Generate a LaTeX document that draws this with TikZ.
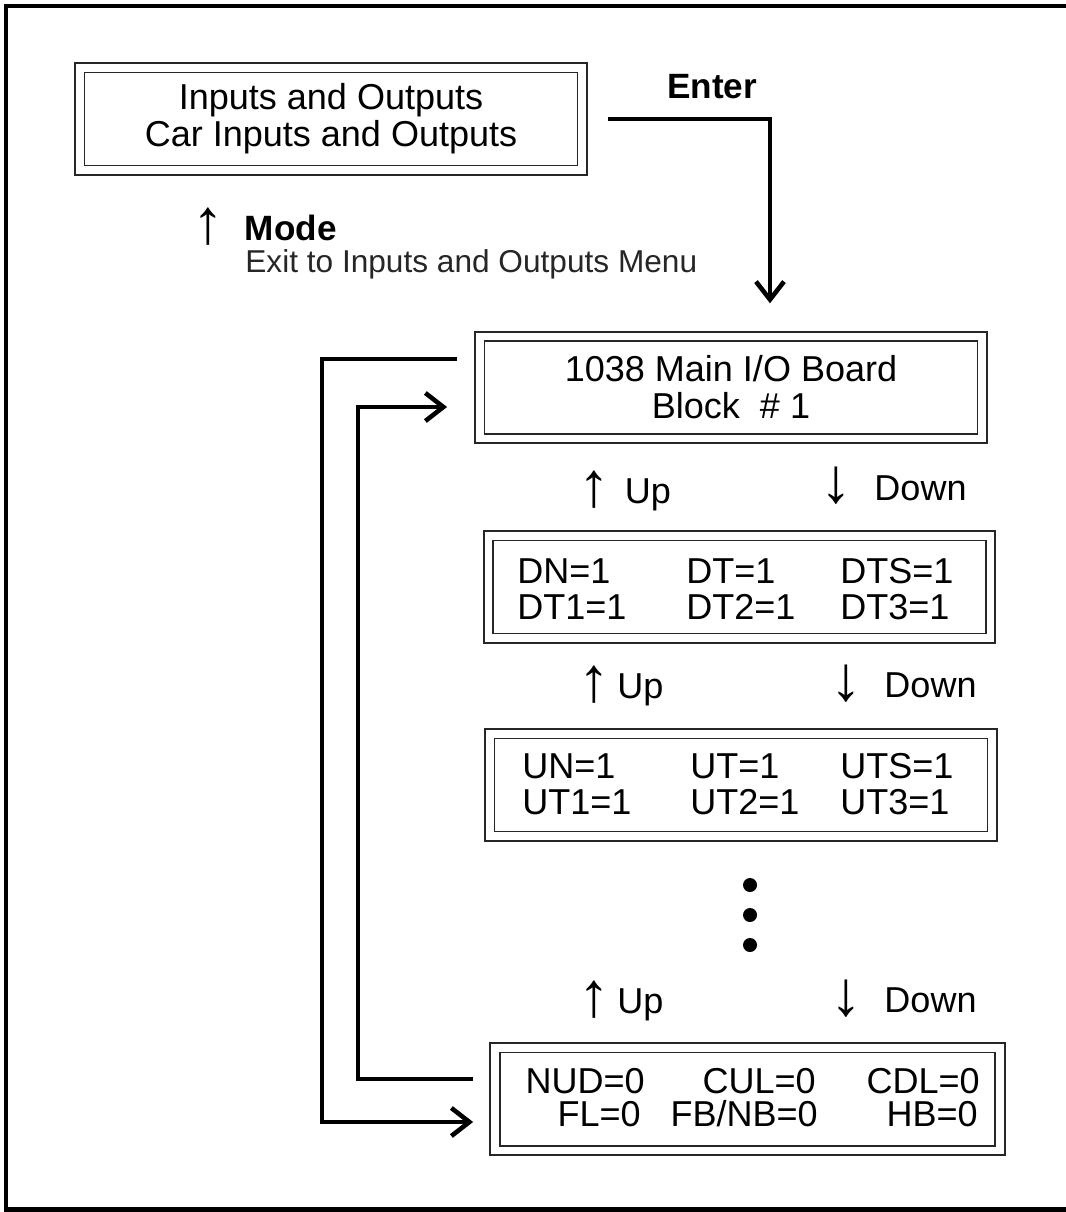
\documentclass[tikz,border=0pt]{standalone}
\usepackage{fontspec}
\setmainfont{Liberation Sans}
\usetikzlibrary{arrows.meta}

\newcommand\uarr{\raisebox{-0.06cm}{\bfseries\fontsize{36}{36}\selectfont↑}}
\newcommand\darr{\raisebox{-0.06cm}{\bfseries\fontsize{36}{36}\selectfont↓}}

\begin{document}
\begin{tikzpicture}[
  x=0.02cm,y=-0.02cm,
  lcd/.style={draw=black!85,line width=1.1pt,double=white,double distance=0.15cm,
    minimum width=10.05cm,minimum height=2.05cm,inner sep=0pt,align=center,
    font=\fontsize{20.5}{21}\selectfont},
  entry/.style={font=\fontsize{20.5}{20}\selectfont,inner sep=0pt},
  key/.style={font=\fontsize{20.5}{20}\selectfont,inner sep=0pt,anchor=base west},
  hint/.style={font=\bfseries\fontsize{20}{20}\selectfont,inner sep=0pt},
  wire/.style={draw=black,line width=2.6pt},
  tip/.style={-{Straight Barb[length=0.36cm,width=0.56cm]}},
]
\useasboundingbox (0,0) rectangle (1065,1212);
\draw[line width=0.09cm] (1075,6) -- (6,6) -- (6,1209.5) -- (1075,1209.5);

\node[lcd] (menu) at (331,119) {Inputs and Outputs\\Car Inputs and Outputs};
\node[hint,anchor=base] (enter) at (712,99) {Enter};
\node[hint,anchor=base west] (mode) at (192,241) {\uarr\hspace{0.42cm}Mode};
\node[anchor=base west,inner sep=0pt,font=\fontsize{18}{18}\selectfont,text=black!85] (exit) at (245,273) {Exit to Inputs and Outputs Menu};

\node[lcd] (board) at (731,387.5) {1038 Main I/O Board\\Block \ \# 1};
\node[key] (up1) at (578,503) {\uarr\hspace{0.3cm}Up};
\node[key] (down1) at (820,500) {\darr\hspace{0.45cm}Down};

\node[lcd] (dtbox) at (739.5,587) {};
\node[entry,anchor=base west] (dn) at (517,583) {DN=1};
\node[entry,anchor=base west] (dt) at (686,583) {DT=1};
\node[entry,anchor=base west] (dts) at (840,583) {DTS=1};
\node[entry,anchor=base west] (dta) at (517,619) {DT1=1};
\node[entry,anchor=base west] (dtb) at (686,619) {DT2=1};
\node[entry,anchor=base west] (dtc) at (840,619) {DT3=1};
\node[key] (up2) at (578,698) {\uarr\hspace{0.15cm}Up};
\node[key] (down2) at (830,697) {\darr\hspace{0.45cm}Down};

\node[lcd] (utbox) at (741,785) {};
\node[entry,anchor=base west] (un) at (522,778) {UN=1};
\node[entry,anchor=base west] (ut) at (690,778) {UT=1};
\node[entry,anchor=base west] (uts) at (840,778) {UTS=1};
\node[entry,anchor=base west] (uta) at (522,814) {UT1=1};
\node[entry,anchor=base west] (utb) at (690,814) {UT2=1};
\node[entry,anchor=base west] (utc) at (840,814) {UT3=1};

\foreach \y in {885,915,945}
  \fill (750,\y) circle (0.14cm);

\node[key] (up3) at (578,1013) {\uarr\hspace{0.15cm}Up};
\node[key] (down3) at (830,1012) {\darr\hspace{0.45cm}Down};

\node[lcd,minimum width=10.1cm] (flbox) at (747.5,1099) {};
\node[entry,anchor=base east] (nud) at (645,1093) {NUD=0};
\node[entry,anchor=base east] (cul) at (816,1093) {CUL=0};
\node[entry,anchor=base east] (cdl) at (980,1093) {CDL=0};
\node[entry,anchor=base east] (fl) at (641,1126) {FL=0};
\node[entry,anchor=base east] (fbnb) at (818,1126) {FB/NB=0};
\node[entry,anchor=base east] (hb) at (978,1126) {HB=0};

\draw[wire,tip] ([xshift=0.5cm]menu.east) -| ([xshift=0.78cm,yshift=0.64cm]board.north);
\draw[wire,tip] ([xshift=-0.44cm,yshift=0.57cm]board.west) -- ++(-2.7cm,0)
  |- ([xshift=-0.42cm,yshift=-0.46cm]flbox.west);
\draw[wire,tip] ([xshift=-0.42cm,yshift=0.4cm]flbox.west) -- ++(-2.3cm,0)
  |- ([xshift=-0.635cm,yshift=-0.39cm]board.west);
\end{tikzpicture}
\end{document}
